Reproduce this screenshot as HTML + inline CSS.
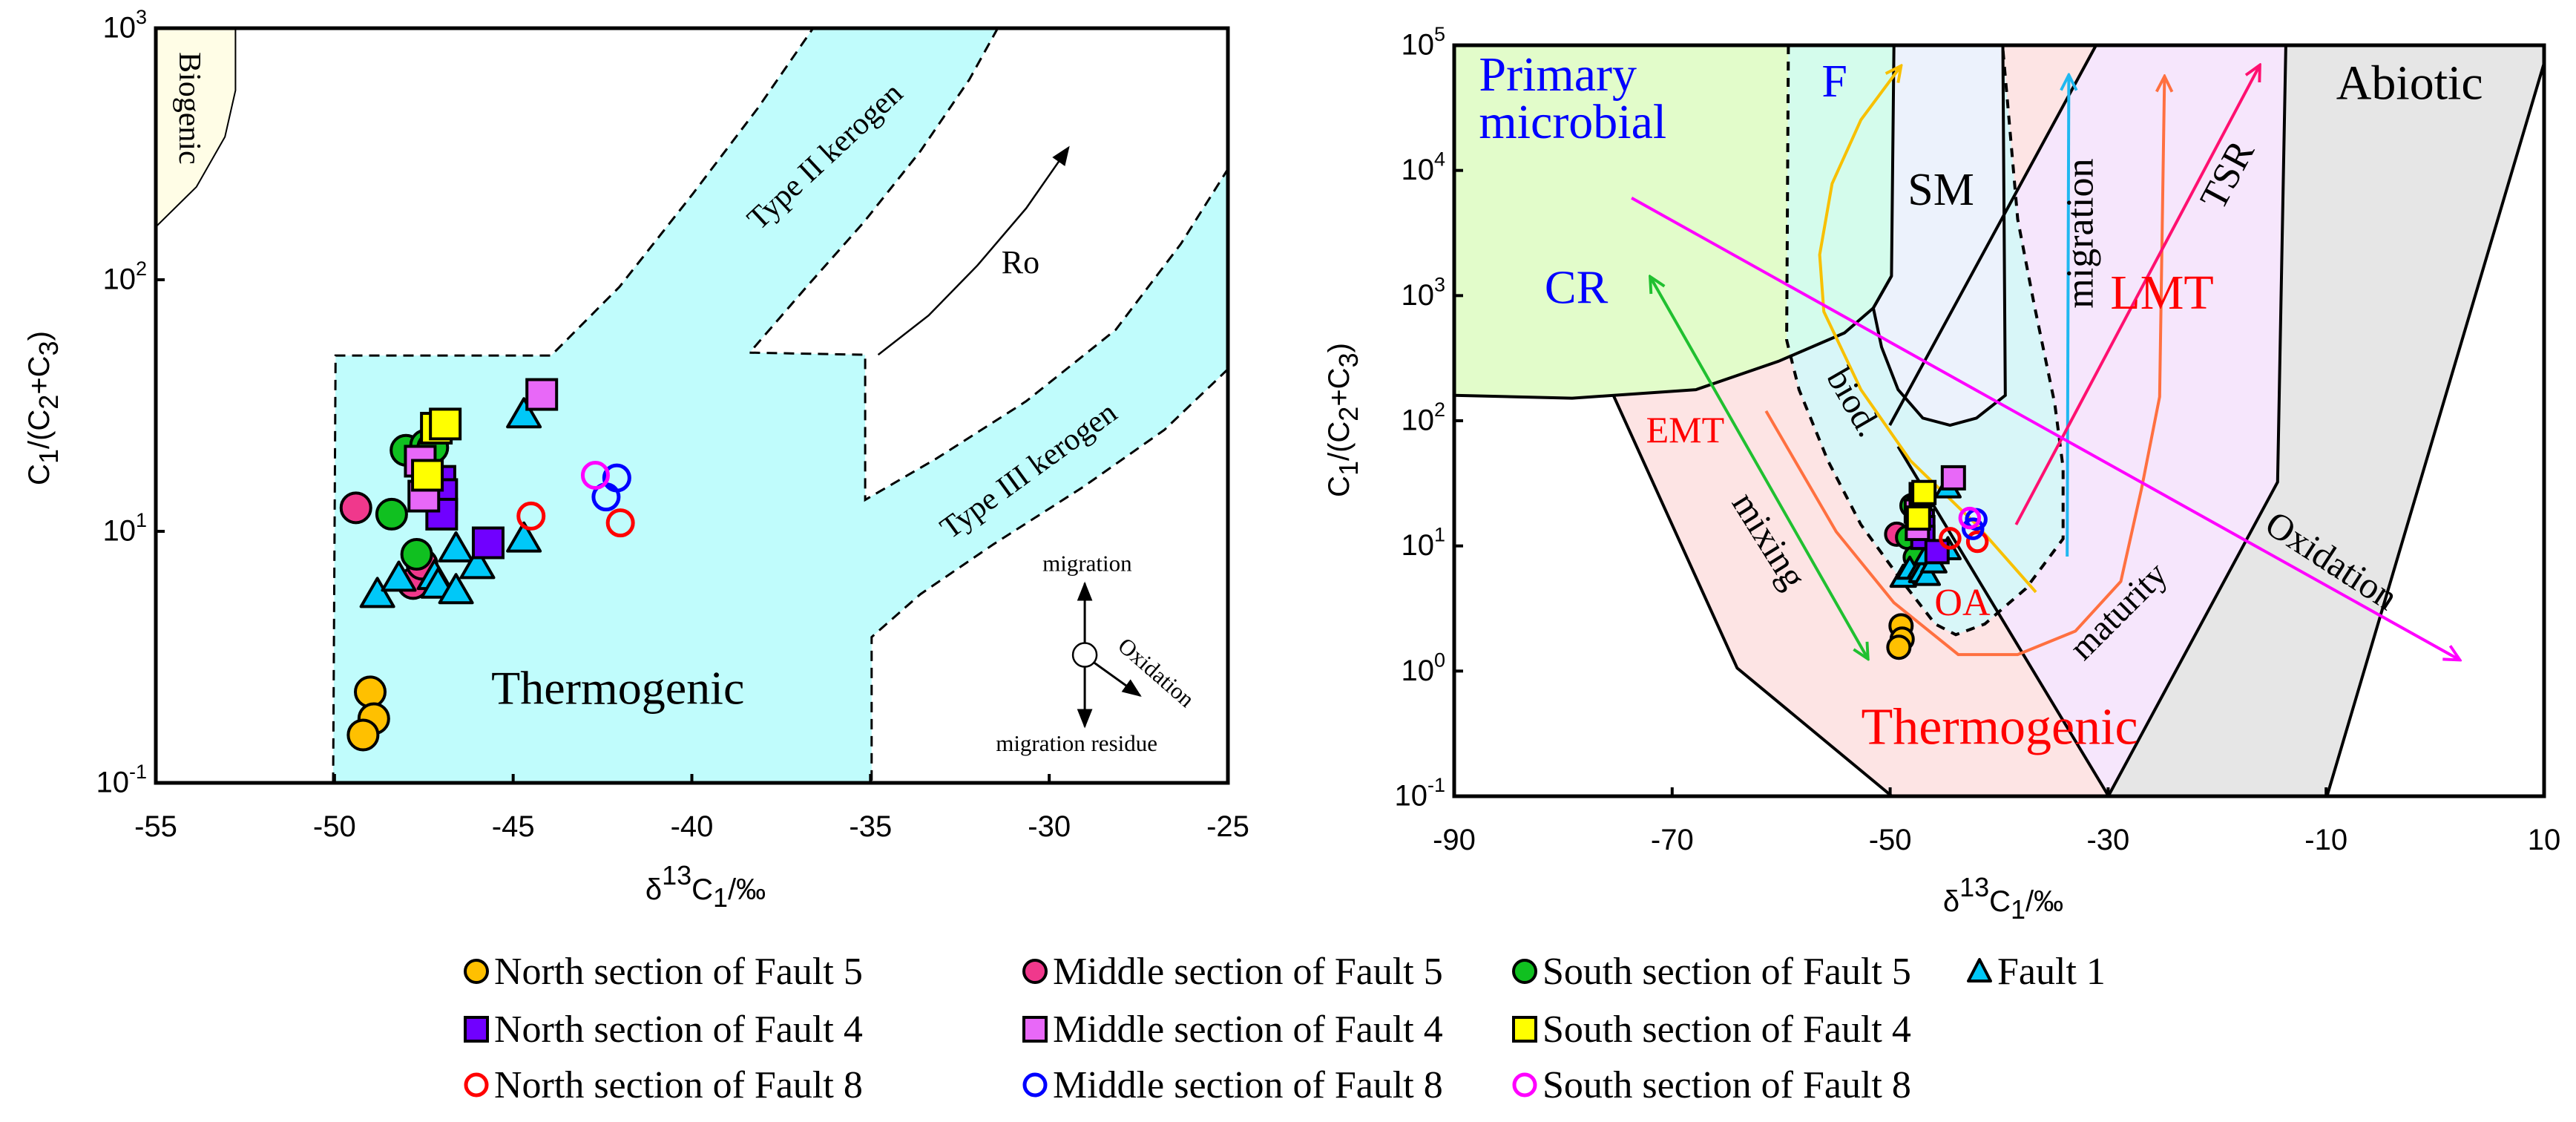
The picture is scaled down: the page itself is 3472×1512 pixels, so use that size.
<!DOCTYPE html>
<html><head><meta charset="utf-8">
<style>
html,body{margin:0;padding:0;background:#fff;}
svg{display:block;}
.tk{font-family:"Liberation Sans",sans-serif;font-size:40px;fill:#000;}
</style></head>
<body>
<svg id="fig" xmlns="http://www.w3.org/2000/svg" width="3472" height="1512" viewBox="0 0 3472 1512">
<defs id="defs"></defs>
<g id="left"></g>
<g id="right"></g>
<g id="legend"></g>
</svg>
<script>
// ---- data (delta13C1, C1/(C2+C3)) ----
const seriesNames = ["North section of Fault 5","Middle section of Fault 5","South section of Fault 5","Fault 1","North section of Fault 4","Middle section of Fault 4","South section of Fault 4","North section of Fault 8","Middle section of Fault 8","South section of Fault 8"];
const northF5X = [-49.0,-48.9,-49.2];
const northF5Y = [2.3,1.8,1.55];
const middleF5X = [-49.4,-47.8,-47.55];
const middleF5Y = [12.4,6.2,7.4];
const southF5X = [-48.0,-47.45,-47.25,-48.4,-47.7];
const southF5Y = [21,22,21.5,11.7,8.1];
const fault1X = [-44.7,-44.7,-48.8,-48.2,-47.2,-47.1,-46.6,-46.6,-46.0];
const fault1Y = [29,9.3,5.6,6.5,6.6,6.1,8.5,5.8,7.3];
const northF4X = [-47.05,-47.0,-47.0,-45.7];
const northF4Y = [15.8,14,11.7,9.0];
const middleF4X = [-47.6,-47.5,-44.2];
const middleF4Y = [19,13.8,35];
const southF4X = [-47.15,-46.9,-47.4];
const southF4Y = [25.7,26.7,16.7];
const northF8X = [-44.5,-42.0];
const northF8Y = [11.5,10.8];
const middleF8X = [-42.1,-42.4];
const middleF8Y = [16.3,13.7];
const southF8X = [-42.7];
const southF8Y = [16.7];
const leftXTicks = [-55,-50,-45,-40,-35,-30,-25];
const leftYTickExp = [3,2,1,0];
const leftYTickLabels = ["3","2","1","-1"];
const rightXTicks = [-90,-70,-50,-30,-10,10];
const rightYTickExp = [5,4,3,2,1,0,-1];

const NS="http://www.w3.org/2000/svg";
function mk(tag,attrs,parent){const e=document.createElementNS(NS,tag);for(const k in attrs)e.setAttribute(k,attrs[k]);parent.appendChild(e);return e;}

const defs=document.getElementById("defs");
const mcols={k:"#000",y:"#f8c000",g:"#20c030",o:"#ff7040",c:"#20b8f0",r:"#ff1070",m:"#ff00ff"};
for(const k in mcols){
  const m=mk("marker",{id:"ah"+k,viewBox:"0 0 20 20",refX:"17",refY:"10",markerWidth:"26",markerHeight:"26",orient:"auto-start-reverse",markerUnits:"userSpaceOnUse"},defs);
  mk("path",{d:"M2,2 L18,10 L2,18",fill:"none",stroke:mcols[k],"stroke-width":"3"},m);
}
const mkf=mk("marker",{id:"ahf",viewBox:"0 0 20 20",refX:"18",refY:"10",markerWidth:"26",markerHeight:"26",orient:"auto",markerUnits:"userSpaceOnUse"},defs);
mk("path",{d:"M0,2 L20,10 L0,18 Z",fill:"#000"},mkf);

const LA={x0:210,x1:1655,y0:1055,y1:38,xmin:-55,xmax:-25,lmin:0,lmax:3};
const RA={x0:1960,x1:3429,y0:1073,y1:61,xmin:-90,xmax:10,lmin:-1,lmax:5};
function ax(A,v){return A.x0+(v-A.xmin)/(A.xmax-A.xmin)*(A.x1-A.x0);}
function ay(A,v){return A.y0-(Math.log10(v)-A.lmin)/(A.lmax-A.lmin)*(A.y0-A.y1);}
function ayL(A,l){return A.y0-(l-A.lmin)/(A.lmax-A.lmin)*(A.y0-A.y1);}
function LZ(x,y){return [210+(x-190)*1.0964,38+(y-38)*0.963];}
function RZ(x,y){return [1960+(x-207)*1.112,61+(y-55)*0.957];}
function pth(f,pts,close){return pts.map((p,i)=>{const q=f(p[0],p[1]);return (i?"L":"M")+q[0].toFixed(1)+","+q[1].toFixed(1);}).join(" ")+(close?" Z":"");}
function txt(g,f,zx,zy,s,size,opts){const q=f(zx,zy);const o=opts||{};
  const t=mk("text",{x:q[0],y:q[1],"font-size":size,"text-anchor":o.anchor||"middle","dominant-baseline":"middle",fill:o.fill||"#000","font-family":'"Liberation Serif",serif'},g);
  if(o.rot)t.setAttribute("transform","rotate("+o.rot+" "+q[0]+" "+q[1]+")");
  t.textContent=s;return t;}

function drawMarkers(g,A,r){
  const sets=[
   [northF5X,northF5Y,"circle","#ffc000","#000"],
   [middleF5X,middleF5Y,"circle","#f0388c","#000"],
   [southF5X,southF5Y,"circle","#10c020","#000"],
   [fault1X,fault1Y,"tri","#00c8f8","#000"],
   [northF4X,northF4Y,"sq","#7000ff","#000"],
   [middleF4X,middleF4Y,"sq","#e868f8","#000"],
   [southF4X,southF4Y,"sq","#ffff00","#000"],
   [northF8X,northF8Y,"ring","none","#ff0000"],
   [middleF8X,middleF8Y,"ring","none","#0000ff"],
   [southF8X,southF8Y,"ring","none","#ff00ff"]];
  sets.forEach((s,si)=>{
    const sg=mk("g",{},g);
    
    
    s[0].forEach((xv,i)=>{
      const cx=ax(A,xv),cy=ay(A,s[1][i]);let e;
      if(s[2]==="circle")e=mk("circle",{cx:cx,cy:cy,r:r,fill:s[3],stroke:s[4],"stroke-width":4},sg);
      else if(s[2]==="ring")e=mk("circle",{cx:cx,cy:cy,r:r*0.85,fill:"none",stroke:s[4],"stroke-width":5},sg);
      else if(s[2]==="sq")e=mk("rect",{x:cx-r,y:cy-r,width:2*r,height:2*r,fill:s[3],stroke:s[4],"stroke-width":4},sg);
      else e=mk("polygon",{points:(cx)+","+(cy-r*1.1)+" "+(cx-r*1.1)+","+(cy+r*0.8)+" "+(cx+r*1.1)+","+(cy+r*0.8),fill:s[3],stroke:s[4],"stroke-width":4,"stroke-linejoin":"round"},sg);
      
      
    });
  });
}
function tickLabel(g,x,y,exp,anchor){
  const t=mk("text",{x:x,y:y,"text-anchor":anchor,"dominant-baseline":"middle",class:"tk"},g);
  t.textContent="10";const s=mk("tspan",{dy:-15,"font-size":27},t);s.textContent=exp;return t;}
const XT='δ<tspan dy="-20" font-size="36">13</tspan><tspan dy="20">C</tspan><tspan dy="10" font-size="36">1</tspan><tspan dy="-10">/‰</tspan>';
const YT='C<tspan dy="12" font-size="36">1</tspan><tspan dy="-12">/(C</tspan><tspan dy="12" font-size="36">2</tspan><tspan dy="-12">+C</tspan><tspan dy="12" font-size="36">3</tspan><tspan dy="-12">)</tspan>';

// ===== LEFT =====
(function(){
 const g=document.getElementById("left");
 mk("path",{d:pth(LZ,[[190,38],[288,38],[288,125],[275,190],[240,260],[190,316]],true),fill:"#fffde6",stroke:"#000","stroke-width":2},g);
 const th=[[408,1094],[411,496],[676,496],[760,400],[850,270],[930,150],[998,38],[1225,38],[1190,110],[1130,210],[1060,310],[990,400],[920,492],[1062,495],[1062,698],[1150,640],[1260,560],[1370,460],[1450,340],[1508,235],[1508,515],[1430,600],[1330,680],[1220,760],[1130,830],[1070,890],[1070,1094]];
 mk("path",{d:pth(LZ,th,true),fill:"#c0fcfc",stroke:"none"},g);
 const dash={fill:"none",stroke:"#000","stroke-width":3,"stroke-dasharray":"14,9"};
 [[[408,1094],[411,496],[676,496],[760,400],[850,270],[930,150],[998,38]],
  [[1225,38],[1190,110],[1130,210],[1060,310],[990,400],[920,492],[1062,495],[1062,698],[1150,640],[1260,560],[1370,460],[1450,340],[1508,235]],
  [[1508,515],[1430,600],[1330,680],[1220,760],[1130,830],[1070,890],[1070,1094]]].forEach(p=>mk("path",Object.assign({d:pth(LZ,p)},dash),g));
 mk("path",{d:pth(LZ,[[1078,495],[1140,440],[1200,370],[1260,290],[1312,205]]),fill:"none",stroke:"#000","stroke-width":2.5,"marker-end":"url(#ahf)"},g);
 txt(g,LZ,228,150,"Biogenic",42,{rot:90});
 txt(g,LZ,1015,220,"Type II kerogen",42,{rot:-43});
 txt(g,LZ,1265,660,"Type III kerogen",42,{rot:-36});
 txt(g,LZ,1253,370,"Ro",44);
 txt(g,LZ,758,968,"Thermogenic",64);
 const c=LZ(1332,915);
 mk("line",{x1:c[0],y1:c[1]-15,x2:c[0],y2:LZ(0,815)[1],stroke:"#000","stroke-width":3,"marker-end":"url(#ahf)"},g);
 mk("line",{x1:c[0],y1:c[1]+15,x2:c[0],y2:LZ(0,1015)[1],stroke:"#000","stroke-width":3,"marker-end":"url(#ahf)"},g);
 const d=LZ(1400,972);
 mk("line",{x1:c[0]+12,y1:c[1]+10,x2:d[0],y2:d[1],stroke:"#000","stroke-width":3,"marker-end":"url(#ahf)"},g);
 mk("circle",{cx:c[0],cy:c[1],r:16,fill:"#fff",stroke:"#000","stroke-width":2.5},g);
 txt(g,LZ,1335,790,"migration",31);
 txt(g,LZ,1418,942,"Oxidation",31,{rot:41});
 txt(g,LZ,1322,1042,"migration residue",31);
 drawMarkers(g,LA,20);
 mk("rect",{x:LA.x0,y:LA.y1,width:LA.x1-LA.x0,height:LA.y0-LA.y1,fill:"none",stroke:"#000","stroke-width":5},g);
 leftXTicks.forEach(v=>{const x=ax(LA,v);mk("line",{x1:x,y1:LA.y0,x2:x,y2:LA.y0-12,stroke:"#000","stroke-width":4},g);
   const t=mk("text",{x:x,y:LA.y0+72,"text-anchor":"middle",class:"tk"},g);t.textContent=v;});
 leftYTickExp.forEach((l,i)=>{const y=ayL(LA,l);mk("line",{x1:LA.x0,y1:y,x2:LA.x0+12,y2:y,stroke:"#000","stroke-width":4},g);
   tickLabel(g,LA.x0-12,y+2,leftYTickLabels[i],"end");});
 const xt=mk("text",{x:951,y:1212,"text-anchor":"middle",class:"tk","font-size":56},g);
 xt.innerHTML=XT;
 const yt=mk("text",{x:0,y:0,"text-anchor":"middle",class:"tk","font-size":56,transform:"translate(66,550) rotate(-90)"},g);
 yt.innerHTML=YT;
})();

// ===== RIGHT =====
(function(){
 const g=document.getElementById("right");
 const S={stroke:"none"};
 mk("path",Object.assign({d:pth(RZ,[[400,548],[612,480],[872,55],[985,55],[735,590],[1000,1112],[737,1112],[550,932]],true),fill:"#fde4e4"},S),g);
 mk("path",Object.assign({d:pth(RZ,[[985,55],[1215,55],[1205,670],[1000,1112],[760,640],[735,590]],true),fill:"#f6e6fc"},S),g);
 mk("path",Object.assign({d:pth(RZ,[[1215,55],[1528,55],[1528,80],[1265,1112],[1000,1112],[1205,670]],true),fill:"#e6e6e6"},S),g);
 const cy=[[612,480],[625,540],[660,640],[700,730],[750,810],[790,870],[815,885],[850,870],[900,820],[945,750],[945,650],[935,560],[910,420],[890,300],[878,140],[872,60]];
 mk("path",Object.assign({d:pth(RZ,cy.concat([[740,60]]),true),fill:"#d8f6f8"},S),g);
 const gb=[[207,548],[350,552],[500,540],[600,500],[680,460],[715,425],[737,380],[740,55]];
 mk("path",Object.assign({d:pth(RZ,[[207,55]].concat(gb),true),fill:"#e2fcca"},S),g);
 mk("path",Object.assign({d:pth(RZ,[[612,55],[740,55],[737,380],[715,425],[680,460],[615,495],[610,470]],true),fill:"#d4fcec"},S),g);
 const sm=[[740,55],[737,380],[715,425],[725,480],[745,540],[775,580],[808,590],[840,580],[875,548],[872,55]];
 mk("path",Object.assign({d:pth(RZ,sm,true),fill:"#ecf2fc"},S),g);
 const dsh={fill:"none",stroke:"#000","stroke-width":4,"stroke-dasharray":"12,10"};
 mk("path",Object.assign({d:pth(RZ,[[612,55],[610,470]].concat(cy))},dsh),g);
 const L={fill:"none",stroke:"#000","stroke-width":4};
 mk("path",Object.assign({d:pth(RZ,gb)},L),g);
 mk("path",Object.assign({d:pth(RZ,sm.slice(1))},L),g);
 mk("path",Object.assign({d:pth(RZ,[[735,590],[985,55]])},L),g);
 mk("path",Object.assign({d:pth(RZ,[[745,620],[1000,1112]])},L),g);
 mk("path",Object.assign({d:pth(RZ,[[400,548],[550,932],[737,1112]])},L),g);
 mk("path",Object.assign({d:pth(RZ,[[1215,55],[1205,670],[1000,1112]])},L),g);
 mk("path",Object.assign({d:pth(RZ,[[1528,80],[1265,1112]])},L),g);
 const A=(pts,k,both)=>{const a={d:pth(RZ,pts),fill:"none",stroke:mcols[k],"stroke-width":4,"marker-end":"url(#ah"+k+")"};if(both)a["marker-start"]="url(#ah"+k+")";return mk("path",a,g);};
 A([[912,825],[840,730],[760,640],[700,540],[655,430],[650,350],[665,250],[700,160],[748,85]],"y");
 A([[445,382],[708,918]],"g",true);
 A([[585,570],[670,740],[740,840],[818,913],[890,913],[960,880],[1015,810],[1040,680],[1062,550],[1068,100]],"o");
 A([[950,775],[952,98]],"c");
 A([[888,730],[1183,84]],"r");
 A([[422,270],[1425,920]],"m");
 txt(g,RZ,237,103,"Primary",66,{anchor:"start",fill:"#0000ff"});
 txt(g,RZ,237,170,"microbial",66,{anchor:"start",fill:"#0000ff"});
 txt(g,RZ,668,112,"F",62,{fill:"#0000ff"});
 txt(g,RZ,797,265,"SM",62);
 txt(g,RZ,355,403,"CR",64,{fill:"#0000ff"});
 txt(g,RZ,970,320,"migration",52,{rot:-90});
 txt(g,RZ,1065,410,"LMT",66,{fill:"#ff0000"});
 txt(g,RZ,1148,240,"TSR",52,{rot:-62});
 txt(g,RZ,1365,115,"Abiotic",66);
 txt(g,RZ,487,602,"EMT",50,{fill:"#ff0000"});
 txt(g,RZ,688,560,"biod.",48,{rot:60});
 txt(g,RZ,585,755,"mixing",50,{rot:58});
 txt(g,RZ,823,845,"OA",52,{fill:"#ff0000"});
 txt(g,RZ,1015,855,"maturity",48,{rot:-45});
 txt(g,RZ,1268,785,"Oxidation",50,{rot:33});
 txt(g,RZ,868,1022,"Thermogenic",70,{fill:"#ff0000"});
 drawMarkers(g,RA,15);
 mk("rect",{x:RA.x0,y:RA.y1,width:RA.x1-RA.x0,height:RA.y0-RA.y1,fill:"none",stroke:"#000","stroke-width":5},g);
 rightXTicks.forEach(v=>{const x=ax(RA,v);mk("line",{x1:x,y1:RA.y0,x2:x,y2:RA.y0-12,stroke:"#000","stroke-width":4},g);
   const t=mk("text",{x:x,y:RA.y0+72,"text-anchor":"middle",class:"tk"},g);t.textContent=v;});
 rightYTickExp.forEach(l=>{const y=ayL(RA,l);mk("line",{x1:RA.x0,y1:y,x2:RA.x0+12,y2:y,stroke:"#000","stroke-width":4},g);
   tickLabel(g,RA.x0-12,y+2,String(l),"end");});
 const xt=mk("text",{x:2700,y:1228,"text-anchor":"middle",class:"tk","font-size":56},g);
 xt.innerHTML=XT;
 const yt=mk("text",{x:0,y:0,"text-anchor":"middle",class:"tk","font-size":56,transform:"translate(1818,566) rotate(-90)"},g);
 yt.innerHTML=YT;
})();

// ===== LEGEND =====
(function(){
 const g=document.getElementById("legend");
 const cx=[642,1395,2055,2668], ry=[1309,1387,1462];
 const entries=[
  [0,0,"circle","#ffc000","#000",0],[1,0,"circle","#f0388c","#000",1],[2,0,"circle","#10c020","#000",2],[3,0,"tri","#00c8f8","#000",3],
  [0,1,"sq","#7000ff","#000",4],[1,1,"sq","#e868f8","#000",5],[2,1,"sq","#ffff00","#000",6],
  [0,2,"ring","none","#ff0000",7],[1,2,"ring","none","#0000ff",8],[2,2,"ring","none","#ff00ff",9]];
 entries.forEach(e=>{
  const eg=mk("g",{},g);
  
  
  const x=cx[e[0]],y=ry[e[1]],r=15;
  if(e[2]==="circle")mk("circle",{cx:x,cy:y,r:r,fill:e[3],stroke:e[4],"stroke-width":4},eg);
  else if(e[2]==="ring")mk("circle",{cx:x,cy:y,r:14,fill:"none",stroke:e[4],"stroke-width":5},eg);
  else if(e[2]==="sq")mk("rect",{x:x-15,y:y-16,width:30,height:32,fill:e[3],stroke:e[4],"stroke-width":4},eg);
  else mk("polygon",{points:x+","+(y-16)+" "+(x-15)+","+(y+13)+" "+(x+15)+","+(y+13),fill:e[3],stroke:e[4],"stroke-width":4,"stroke-linejoin":"round"},eg);
  const t=mk("text",{x:x+24,y:y+17,"font-size":52,"font-family":'"Liberation Serif",serif',fill:"#000"},eg);
  t.textContent=seriesNames[e[5]];
 });
})();
</script>
</body></html>
